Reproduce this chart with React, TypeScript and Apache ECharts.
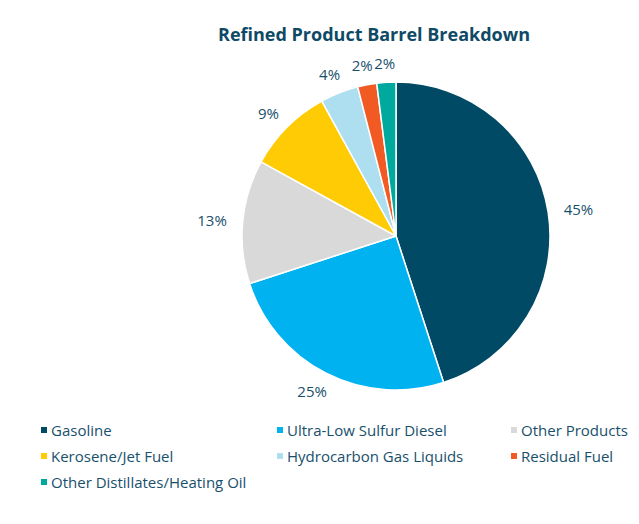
import React, { useEffect, useRef } from "react";
import * as echarts from "echarts";

const categories = [
  "Gasoline",
  "Ultra-Low Sulfur Diesel",
  "Other Products",
  "Kerosene/Jet Fuel",
  "Hydrocarbon Gas Liquids",
  "Residual Fuel",
  "Other Distillates/Heating Oil",
];
const values = [45, 25, 13, 9, 4, 2, 2];
const colors = ["#004a66", "#00b2ef", "#d9d9d9", "#ffcb05", "#addff0", "#f15a22", "#00a99d"];

const legendCol1 = ["Gasoline", "Kerosene/Jet Fuel", "Other Distillates/Heating Oil"];
const legendCol2 = ["Ultra-Low Sulfur Diesel", "Hydrocarbon Gas Liquids"];
const legendCol3 = ["Other Products", "Residual Fuel"];

const FONT = "'Open Sans', 'Noto Sans', sans-serif";
const TEXT_COLOR = "#18506c";

const CX = 388;
const CY = 228;
const R = 154;
const GAP = 16;

export default function App() {
  const ref = useRef<HTMLDivElement>(null);
  useEffect(() => {
    if (!ref.current) return;
    const chart = echarts.init(ref.current, undefined, { renderer: "svg" });
    const total = values.reduce((a, b) => a + b, 0);
    const midAngles: number[] = [];
    let acc = 0;
    values.forEach((v) => {
      midAngles.push(((acc + v / 2) / total) * Math.PI * 2);
      acc += v;
    });
    const legendBase = {
      orient: "vertical" as const,
      top: 413,
      padding: 0,
      itemWidth: 8,
      itemHeight: 8,
      itemGap: 8,
      icon: "rect",
      textStyle: { fontFamily: FONT, fontSize: 15, color: TEXT_COLOR, lineHeight: 18, padding: [0, 0, 0, -2] },
    };
    const pieData = categories.map((name, i) => ({ name, value: values[i] }));
    chart.setOption({
      animation: false,
      color: colors,
      title: {
        text: "Refined Product Barrel Breakdown",
        left: 361,
        textAlign: "center",
        top: 12,
        textStyle: { fontFamily: FONT, fontSize: 18, fontWeight: "bold", color: "#0e4a66" },
      },
      legend: [
        { ...legendBase, left: 31, data: legendCol1 },
        { ...legendBase, left: 267, data: legendCol2 },
        { ...legendBase, left: 501, data: legendCol3 },
      ],
      series: [
        {
          type: "pie",
          center: [CX, CY],
          radius: [0, R],
          startAngle: 90,
          clockwise: true,
          data: pieData,
          avoidLabelOverlap: false,
          itemStyle: { borderColor: "#ffffff", borderWidth: 1.5 },
          label: {
            show: true,
            position: "outside",
            formatter: "{c}%",
            fontFamily: FONT,
            fontSize: 15,
            color: TEXT_COLOR,
          },
          labelLine: { show: false },
          labelLayout: (params: any) => {
            const a = midAngles[params.dataIndex];
            const dx = Math.sin(a);
            const dy = -Math.cos(a);
            const w = params.labelRect.width;
            const h = params.labelRect.height;
            return {
              x: CX + (R + GAP) * dx + (dx * w) / 2,
              y: CY + (R + GAP) * dy + dy * h * 0.25,
              align: "center",
              verticalAlign: "middle",
              hideOverlap: false,
            };
          },
          emphasis: { disabled: true },
        },
      ],
    });
    return () => chart.dispose();
  }, []);
  return <div ref={ref} style={{ width: 631, height: 516 }} />;
}
